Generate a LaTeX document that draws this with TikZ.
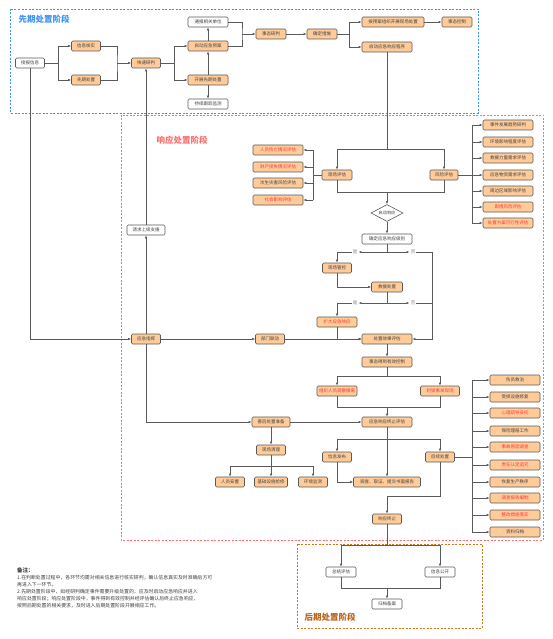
\documentclass[tikz,border=0pt]{standalone}
\usepackage{fontspec}
\newfontfamily\cjk{Noto Sans CJK SC}
\usetikzlibrary{arrows.meta,shapes.geometric}
\definecolor{peach}{HTML}{FFCC99}
\definecolor{edge}{HTML}{5A5A5A}
\definecolor{txt}{HTML}{404040}
\definecolor{redt}{HTML}{FF3333}
\definecolor{bluet}{HTML}{3D94F5}
\definecolor{redf}{HTML}{FF7070}
\definecolor{brownf}{HTML}{C27C1E}
\definecolor{brownt}{HTML}{B8651B}

\begin{document}
\begin{tikzpicture}[x=1pt,y=-1pt,>={Latex[length=3pt,width=2.4pt]},
  box/.style={draw=edge,fill=peach,rounded corners=1.2pt,line width=0.6pt,minimum height=10pt,inner sep=1pt,text=txt,font=\cjk\fontsize{4.5}{5}\selectfont},
  wbox/.style={box,fill=white},
  rbox/.style={box,text=redt},
  ln/.style={draw=edge,line width=0.6pt},
  arr/.style={ln,->},
  lbl/.style={font=\cjk\fontsize{4.5}{5}\selectfont,text=gray,inner sep=1pt},
  frame/.style={dash pattern=on 2pt off 1.5pt,line width=0.8pt},
  stage/.style={font=\cjk\bfseries\fontsize{8.5}{9}\selectfont,anchor=west}]
  \useasboundingbox (0,0) rectangle (553,639);
  \fill[white] (0,0) rectangle (553,639);
  % Stage frames
  \draw[frame,bluet] (10,9) rectangle (478,113);
  \draw[frame,redf] (121,115) rectangle (543,540);
  \draw[frame,brownf] (297,544) rectangle (482,628);
  \node[stage,text=bluet] at (15,19) {先期处置阶段};
  \node[stage,text=redf] at (153,140) {响应处置阶段};
  \node[stage,text=brownt] at (301,617) {后期处置阶段};

  % Early stage
  \node[wbox,minimum width=29pt] (recv) at (30,63) {接报信息};
  \node[box,minimum width=29pt] (verify) at (86,46) {信息核实};
  \node[box,minimum width=29pt] (early) at (86,80) {先期处置};
  \node[box,minimum width=29pt] (judge) at (146,63) {快速研判};
  \node[wbox,minimum width=40pt] (notify) at (208,22) {通报相关单位};
  \node[box,minimum width=40pt] (plan) at (208,46) {启动应急预案};
  \node[box,minimum width=40pt] (dispose) at (208,80) {开展先期处置};
  \node[wbox,minimum width=40pt] (track) at (208,104) {持续跟踪监测};
  \node[box,minimum width=30pt] (assess) at (271,34) {事态研判};
  \node[box,minimum width=30pt] (measure) at (322,34) {确定措施};
  \node[box,minimum width=62pt] (organize) at (393,22) {按预案组织开展现场处置};
  \node[box,minimum width=30pt] (control) at (457,22) {事态控制};
  \node[box,minimum width=50pt] (respond) at (387,47) {启动应急响应程序};

  \draw[arr] (recv.east) -- ++(13,0) |- (verify.west);
  \draw[arr] (recv.east) -- ++(13,0) |- (early.west);
  \coordinate (m1) at (117,63);
  \draw[ln] (verify.east) -| (m1) |- (early.east);
  \draw[arr] (m1) -- (judge.west);
  \draw[arr] (judge.east) -- ++(13,0) |- (plan.west);
  \draw[arr] (judge.east) -- ++(13,0) |- (dispose.west);
  \draw[arr] (plan.north) -- (notify.south);
  \draw[arr] (dispose.north) -- (plan.south);
  \draw[arr] (dispose.south) -- (track.north);
  \coordinate (m2) at (242,34);
  \draw[ln] (notify.east) -| (m2) |- (plan.east);
  \draw[arr] (m2) -- (assess.west);
  \draw[arr] (assess) -- (measure);
  \draw[arr] (measure.east) -- ++(12,0) |- (organize.west);
  \draw[arr] (measure.east) -- ++(12,0) |- (respond.west);
  \draw[arr] (organize) -- (control);

  % Response stage: evaluation
  \node[box,minimum width=30pt] (site) at (337,175) {现场评估};
  \node[box,minimum width=28pt] (risk) at (444,175) {风险评估};
  \coordinate (split) at (387,149);
  \draw[ln] (respond.south) -- (split);
  \draw[arr] (split) -| (site.north);
  \draw[arr] (split) -| (risk.north);
  \foreach \y/\t/\c [count=\i] in {150/人员伤亡情况评估/redt,167/财产损失情况评估/redt,183/次生灾害风险评估/txt,200/社会影响评估/redt}
    \node[box,text=\c,minimum width=50pt] (la\i) at (278,\y) {\t};
  \coordinate (lbus) at (313,175);
  \draw[ln] (site.west) -- (lbus);
  \draw[ln] (lbus |- la1) -- (lbus |- la4);
  \foreach \i in {1,...,4} \draw[arr] (lbus |- la\i) -- (la\i.east);
  \foreach \y/\t/\c [count=\i] in {125/事件发展趋势研判/txt,142/环境影响程度评估/txt,158/救援力量需求评估/txt,175/应急物资需求评估/txt,191/周边区域影响评估/txt,207/舆情风险评估/redt,223/处置方案可行性评估/redt}
    \node[box,text=\c,minimum width=50pt] (ra\i) at (508,\y) {\t};
  \coordinate (rbus) at (472,175);
  \draw[ln] (risk.east) -- (rbus);
  \draw[ln] (rbus |- ra1) -- (rbus |- ra7);
  \foreach \i in {1,...,7} \draw[arr] (rbus |- ra\i) -- (ra\i.west);

  \node[draw=edge,fill=white,diamond,aspect=2,minimum width=32pt,minimum height=17pt,inner sep=0pt,line width=0.6pt,text=txt,font=\cjk\fontsize{4.2}{5}\selectfont] (gate) at (387,213) {启动响应};
  \coordinate (merge) at (387,192);
  \draw[ln] (site.south) |- (merge);
  \draw[ln] (risk.south) |- (merge);
  \draw[arr] (merge) -- (gate.north);
  \node[wbox,minimum width=50pt] (level) at (387,239) {确定应急响应级别};
  \draw[arr] (gate.south) -- (level.north);

  % Response stage: handling
  \node[box,minimum width=29pt] (ctrl) at (337,268) {现场管控};
  \node[box,minimum width=31pt] (rescue) at (387,287) {救援处置};
  \node[rbox,minimum width=40pt] (expand) at (337,322) {扩大应急响应};
  \node[box,minimum width=50pt] (eval) at (387,339) {处置效果评估};
  \node[lbl] (yes1) at (355,252) {是};
  \node[lbl] (no1) at (413,252) {否};
  \node[lbl] (yes2) at (355,303) {是};
  \node[lbl] (no2) at (413,303) {否};
  \coordinate (q1) at (387,252);
  \coordinate (q2) at (387,303);
  \coordinate (rv) at (432,339);
  \draw[ln] (level.south) -- (q1);
  \draw[arr] (q1) -- (yes1.east);
  \draw[arr] (yes1.west) -| (ctrl.north);
  \draw[arr] (q1) -- (no1.west);
  \draw[arr] (no1.east) -| (rv) -- (eval.east);
  \draw[arr] (ctrl.south) |- (rescue.west);
  \draw[ln] (rescue.south) -- (q2);
  \draw[arr] (q2) -- (yes2.east);
  \draw[arr] (yes2.west) -| (expand.north);
  \draw[arr] (q2) -- (no2.west);
  \draw[ln] (no2.east) -- (no2.east -| rv);
  \draw[arr] (expand.south) |- (eval.west);

  \node[box,minimum width=29pt] (command) at (146,339) {应急指挥};
  \node[box,minimum width=29pt] (linkage) at (270,339) {部门联动};
  \node[wbox,minimum width=38pt] (support) at (146,230) {请求上级支援};
  \draw[arr] (recv.south) |- (command.west);
  \draw[arr] (command) -- (linkage);
  \draw[arr] (linkage) -- (eval);
  \draw[arr] (command.north) -- (support.south);
  \draw[arr] (support.north) -- (judge.south);

  \node[box,minimum width=50pt] (controlled) at (387,362) {事态得到有效控制};
  \node[rbox,minimum width=40pt] (evac) at (337,391) {组织人员疏散撤离};
  \node[rbox,minimum width=39pt] (seal) at (440,391) {封锁事发现场};
  \node[box,minimum width=50pt] (endeval) at (387,422) {应急响应终止评估};
  \node[box,minimum width=38pt] (after) at (271,422) {善后处置准备};
  \coordinate (s3) at (387,376);
  \coordinate (s4) at (387,407);
  \draw[arr] (eval) -- (controlled);
  \draw[ln] (controlled.south) -- (s3);
  \draw[arr] (s3) -| (evac.north);
  \draw[arr] (s3) -| (seal.north);
  \draw[ln] (evac.south) |- (s4);
  \draw[ln] (seal.south) |- (s4);
  \draw[arr] (s4) -- (endeval.north);
  \draw[arr] (command.south) |- (after.west);
  \draw[arr] (after) -- (endeval);

  \node[box,minimum width=29pt] (release) at (337,457) {信息发布};
  \node[box,minimum width=29pt] (follow) at (440,457) {后续处置};
  \node[box,minimum width=67pt] (report) at (387,482) {调查、取证、提交书面报告};
  \node[box,minimum width=29pt] (terminate) at (387,519) {响应终止};
  \coordinate (s5) at (387,439);
  \coordinate (s6) at (440,496);
  \draw[arr] (endeval.south) -- (report.north);
  \draw[ln] (release.north |- s5) -- (follow.north |- s5);
  \draw[arr] (s5) -| (release.north);
  \draw[arr] (s5) -| (follow.north);
  \draw[arr] (release.south) |- (report.west);
  \draw[arr] (follow.south) -- (s6) -| (terminate.north);
  \foreach \y/\t/\c [count=\i] in {380/伤员救治/txt,397/受损设施修复/txt,413/心理疏导安抚/redt,431/保险理赔工作/txt,447/事故原因调查/redt,465/责任认定追究/redt,482/恢复生产秩序/txt,498/调查报告编制/redt,515/整改措施落实/redt,532/资料归档/txt}
    \node[box,text=\c,minimum width=50pt] (rb\i) at (515,\y) {\t};
  \coordinate (fbus) at (472,457);
  \draw[ln] (follow.east) -- (fbus);
  \draw[ln] (fbus |- rb1) -- (fbus |- rb10);
  \foreach \i in {1,...,10} \draw[arr] (fbus |- rb\i) -- (rb\i.west);

  \node[box,minimum width=29pt] (clean) at (271,450) {现场清理};
  \node[box,minimum width=29pt] (p1) at (230,482) {人员安置};
  \node[box,minimum width=33pt] (p2) at (271,482) {基础设施抢修};
  \node[box,minimum width=29pt] (p3) at (313,482) {环境监测};
  \coordinate (s7) at (271,466);
  \draw[arr] (after.south) -- (clean.north);
  \draw[ln] (clean.south) -- (s7);
  \draw[arr] (s7) -| (p1.north);
  \draw[arr] (s7) -- (p2.north);
  \draw[arr] (s7) -| (p3.north);

  % Late stage
  \node[wbox,minimum width=30pt] (summary) at (341,572) {总结评估};
  \node[wbox,minimum width=30pt] (public) at (440,572) {信息公开};
  \node[wbox,minimum width=30pt] (archive) at (387,604) {归档备案};
  \coordinate (s8) at (387,545);
  \coordinate (s9) at (387,588);
  \draw[ln] (terminate.south) -- (s8);
  \draw[arr] (s8) -| (summary.north);
  \draw[arr] (s8) -| (public.north);
  \draw[ln] (summary.south) |- (s9);
  \draw[ln] (public.south) |- (s9);
  \draw[arr] (s9) -- (archive.north);

  % Notes
  \node[anchor=north west,align=left,inner sep=0pt,text=txt,font=\cjk\fontsize{4.9}{7}\selectfont] (notes) at (17,568)
    {{\fontsize{5.5}{7}\selectfont\bfseries 备注：}\\
     1.在判断处置过程中，各环节均需对相关信息进行核实研判，确认信息真实及时准确后方可\\
     再进入下一环节。\\
     2.先期处置阶段中，如经研判确定事件需要升级处置的，应及时启动应急响应并进入\\
     响应处置阶段；响应处置阶段中，事件得到有效控制并经评估确认后终止应急响应，\\
     按照后期处置的相关要求，及时进入后期处置阶段开展相应工作。};
\end{tikzpicture}
\end{document}
